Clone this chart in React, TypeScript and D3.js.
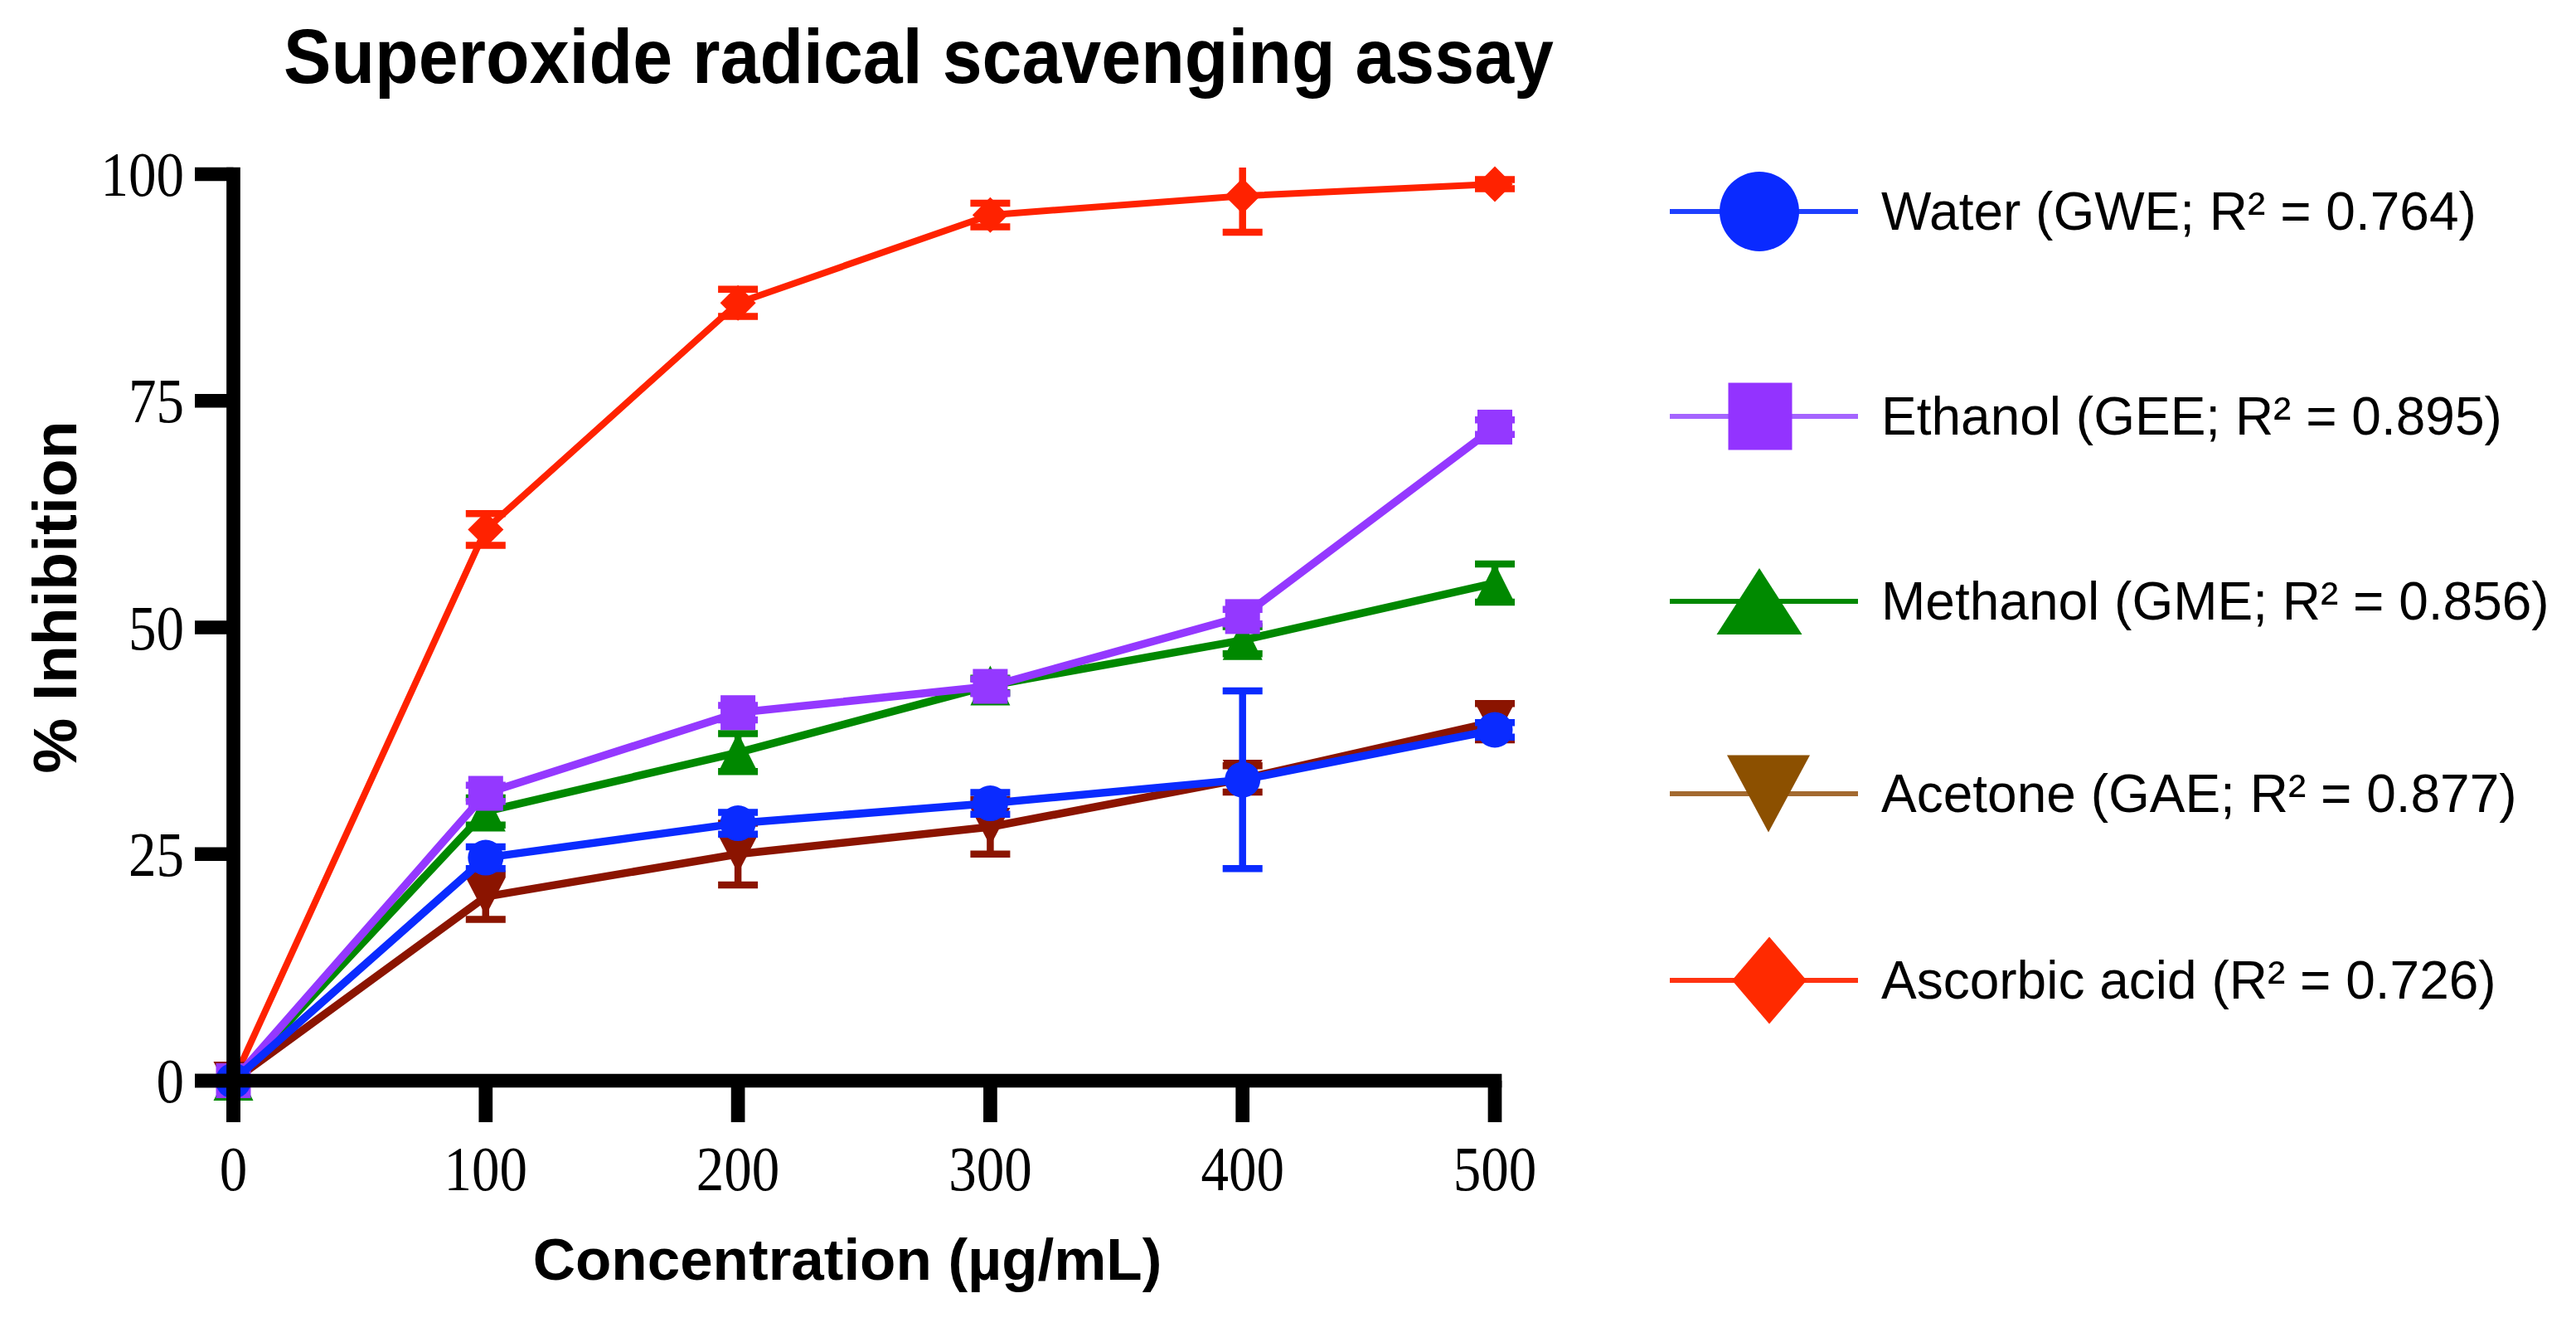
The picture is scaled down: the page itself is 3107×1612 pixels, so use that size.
import React from "react";
import * as d3 from "d3";

// ---- data ----
const concentrations = [0, 100, 200, 300, 400, 500];
const waterMean = [0, 24.6, 28.4, 30.6, 33.2, 38.7];
const waterSD = [0, 1.2, 1.2, 1.2, 9.8, 0.8];
const ethanolMean = [0, 31.7, 40.6, 43.5, 51.2, 72.1];
const ethanolSD = [0, 0.9, 0.8, 0.8, 0.8, 0.8];
const methanolMean = [0, 29.7, 36.2, 43.6, 48.6, 54.9];
const methanolSD = [0, 1.5, 2.1, 0.8, 1.5, 2.1];
const acetoneMean = [0, 20.3, 25.0, 28.0, 33.3, 39.6];
const acetoneSD = [0, 2.5, 3.4, 3.0, 1.45, 2.0];
const ascorbicMean = [0, 60.8, 85.8, 95.5, 97.6, 98.9];
const ascorbicSD = [0, 1.75, 1.5, 1.3, 4.0, 0.5];

const legendLabels = [
  "Water (GWE; R\u00B2 = 0.764)",
  "Ethanol (GEE; R\u00B2 = 0.895)",
  "Methanol (GME; R\u00B2 = 0.856)",
  "Acetone (GAE; R\u00B2 = 0.877)",
  "Ascorbic acid (R\u00B2 = 0.726)",
];
const xTicks = [0, 100, 200, 300, 400, 500];
const yTicks = [0, 25, 50, 75, 100];
const title = "Superoxide radical scavenging assay";
const xTitle = "Concentration (\u00B5g/mL)";
const yTitle = "% Inhibition";

type Shape = "circle" | "square" | "triangle" | "triangleDown" | "diamond";

const series = [
  { mean: waterMean, sd: waterSD, shape: "circle" as Shape, color: "#0a2bff", legendColor: "#0a2aff", legendLine: "#1f40ff" },
  { mean: ethanolMean, sd: ethanolSD, shape: "square" as Shape, color: "#9438ff", legendColor: "#9333ff", legendLine: "#a565ff" },
  { mean: methanolMean, sd: methanolSD, shape: "triangle" as Shape, color: "#008800", legendColor: "#008a00", legendLine: "#008800" },
  { mean: acetoneMean, sd: acetoneSD, shape: "triangleDown" as Shape, color: "#8b1400", legendColor: "#8c5000", legendLine: "#a36a30" },
  { mean: ascorbicMean, sd: ascorbicSD, shape: "diamond" as Shape, color: "#ff2200", legendColor: "#ff2a00", legendLine: "#ff3311" },
];
// draw order (bottom to top)
const drawOrder = [4, 3, 2, 1, 0];

const W = 3107;
const H = 1612;
const x = d3.scaleLinear().domain([0, 500]).range([281.5, 1803]);
const y = d3.scaleLinear().domain([0, 100]).range([1303, 210]);
const yTopValue = y.invert(202);

const plotSize: Record<Shape, [number, number]> = {
  circle: [43, 43],
  square: [42, 42],
  triangle: [48, 48],
  triangleDown: [48, 46],
  diamond: [43, 43],
};
const legendSize: Record<Shape, [number, number]> = {
  circle: [96, 96],
  square: [77, 81],
  triangle: [103, 80],
  triangleDown: [100, 93],
  diamond: [90, 105],
};
const legendRowY = [255, 502, 725, 957, 1182];
const legendMarkerX = [2122, 2123, 2122, 2133, 2134];

function Marker({ shape, cx, cy, w, h, fill }: { shape: Shape; cx: number; cy: number; w: number; h: number; fill: string }) {
  if (shape === "circle") return <ellipse cx={cx} cy={cy} rx={w / 2} ry={h / 2} fill={fill} />;
  if (shape === "square") return <rect x={cx - w / 2} y={cy - h / 2} width={w} height={h} fill={fill} />;
  let d = "";
  if (shape === "triangle") d = `M${cx},${cy - h / 2}L${cx + w / 2},${cy + h / 2}L${cx - w / 2},${cy + h / 2}Z`;
  if (shape === "triangleDown") d = `M${cx - w / 2},${cy - h / 2}L${cx + w / 2},${cy - h / 2}L${cx},${cy + h / 2}Z`;
  if (shape === "diamond") d = `M${cx},${cy - h / 2}L${cx + w / 2},${cy}L${cx},${cy + h / 2}L${cx - w / 2},${cy}Z`;
  return <path d={d} fill={fill} />;
}

export default function App() {
  const line = d3
    .line<number>()
    .x((_, i) => x(concentrations[i]))
    .y((v) => y(v));

  const serif = "'Liberation Serif', 'Times New Roman', serif";
  const sans = "Arial, 'Liberation Sans', sans-serif";
  const axisW = 16.7;
  const capHalf = 24;

  return (
    <svg
      width={W}
      height={H}
      viewBox={`0 0 ${W} ${H}`}
      style={{ position: "absolute", left: 0, top: 0, display: "block", background: "#fff" }}
    >
      <rect x={0} y={0} width={W} height={H} fill="#fff" />

      {/* title */}
      <text x={342} y={100} fontFamily={sans} fontWeight="bold" fontSize={93} textLength={1532} lengthAdjust="spacingAndGlyphs" fill="#000">
        {title}
      </text>

      {/* series */}
      {drawOrder.map((si) => {
        const s = series[si];
        const lw = si === 4 ? 8 : 9.5;
        return (
          <g key={si}>
            <path d={line(s.mean) || ""} fill="none" stroke={s.color} strokeWidth={lw} strokeLinejoin="round" />
            {s.mean.map((m, i) => {
              if (s.sd[i] <= 0) return null;
              const cx = x(concentrations[i]);
              const hiV = m + s.sd[i];
              const clipped = hiV > yTopValue;
              const yHi = y(Math.min(hiV, yTopValue));
              const yLo = y(m - s.sd[i]);
              return (
                <g key={i} stroke={s.color} strokeWidth={8.5}>
                  <line x1={cx} x2={cx} y1={yHi} y2={yLo} />
                  {!clipped && <line x1={cx - capHalf} x2={cx + capHalf} y1={yHi} y2={yHi} />}
                  <line x1={cx - capHalf} x2={cx + capHalf} y1={yLo} y2={yLo} />
                </g>
              );
            })}
            {s.mean.map((m, i) => (
              <Marker key={"m" + i} shape={s.shape} cx={x(concentrations[i])} cy={y(m)} w={plotSize[s.shape][0]} h={plotSize[s.shape][1]} fill={s.color} />
            ))}
          </g>
        );
      })}

      {/* axes */}
      <g stroke="#000" strokeWidth={axisW} fill="none">
        <line x1={x(0)} x2={x(0)} y1={y(100) - axisW / 2} y2={1353} />
        <line x1={235} x2={x(500) + axisW / 2} y1={y(0)} y2={y(0)} />
        {yTicks.map((t) => (
          <line key={"yt" + t} x1={235} x2={x(0)} y1={y(t)} y2={y(t)} />
        ))}
        {xTicks.map((t) => (
          <line key={"xt" + t} x1={x(t)} x2={x(t)} y1={y(0)} y2={1353} />
        ))}
      </g>

      {/* tick labels */}
      {yTicks.map((t) => (
        <text
          key={"yl" + t}
          transform={`translate(222,${y(t) + 26}) scale(0.87,1)`}
          textAnchor="end"
          fontFamily={serif}
          fontSize={77}
          fill="#000"
        >
          {t}
        </text>
      ))}
      {xTicks.map((t) => (
        <text
          key={"xl" + t}
          transform={`translate(${x(t)},1435) scale(0.87,1)`}
          textAnchor="middle"
          fontFamily={serif}
          fontSize={77}
          fill="#000"
        >
          {t}
        </text>
      ))}

      {/* axis titles */}
      <text x={1022} y={1543} textAnchor="middle" fontFamily={sans} fontWeight="bold" fontSize={71} fill="#000">
        {xTitle}
      </text>
      <text transform="translate(92,720) rotate(-90)" textAnchor="middle" fontFamily={sans} fontWeight="bold" fontSize={75} fill="#000">
        {yTitle}
      </text>

      {/* legend */}
      {series.map((s, i) => {
        const ly = legendRowY[i];
        const [w, h] = legendSize[s.shape];
        return (
          <g key={"lg" + i}>
            <line x1={2014} x2={2241} y1={ly} y2={ly} stroke={s.legendLine} strokeWidth={6} />
            <Marker shape={s.shape} cx={legendMarkerX[i]} cy={ly} w={w} h={h} fill={s.legendColor} />
            <text x={2269} y={ly + 22} fontFamily={sans} fontSize={64} fill="#000">
              {legendLabels[i]}
            </text>
          </g>
        );
      })}
    </svg>
  );
}
